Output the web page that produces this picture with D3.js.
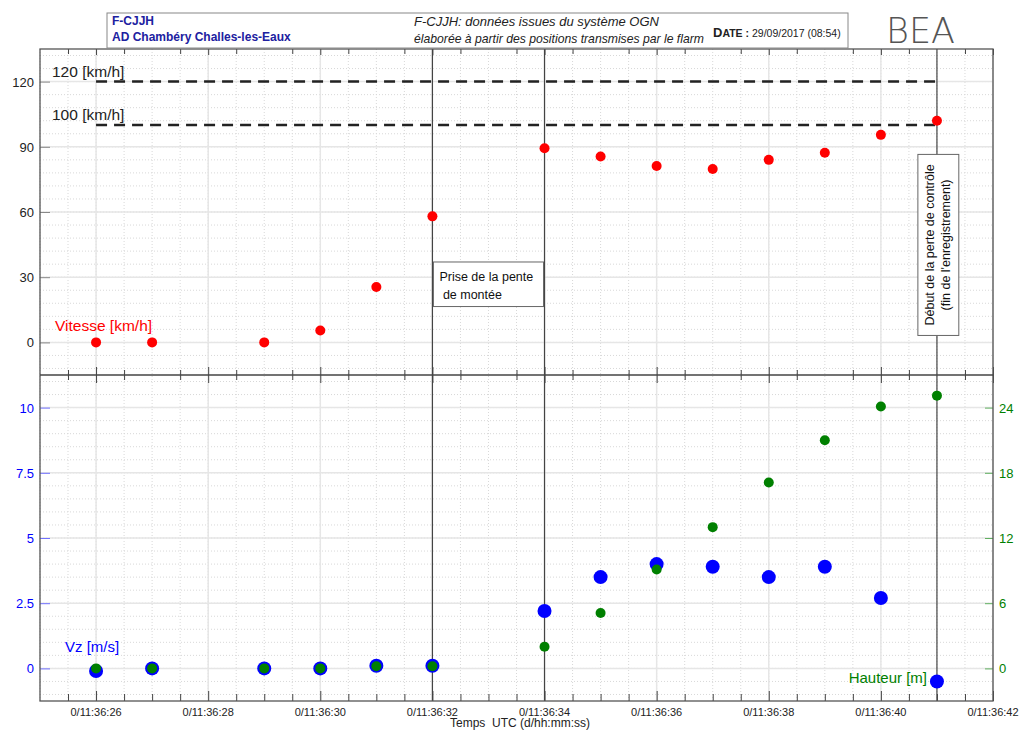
<!DOCTYPE html>
<html>
<head>
<meta charset="utf-8">
<title>F-CJJH OGN</title>
<script src="https://cdnjs.cloudflare.com/ajax/libs/d3/7.8.5/d3.min.js"></script>
<style>
  body { margin: 0; background: #fff; }
  svg { font-family: "Liberation Sans", Arial, sans-serif; }
</style>
</head>
<body>
<svg id="chart" width="1027" height="731"></svg>
<script>
// time in seconds after 0/11:36:00
var times    = [26, 27, 29, 30, 31, 32, 34, 35, 36, 37, 38, 39, 40, 41];
var vitesse  = [0, 0, 0, 5.5, 25.5, 58, 89.3, 85.5, 81.2, 79.8, 84, 87.3, 95.5, 102];
var vz       = [-0.1, 0, 0, 0, 0.1, 0.1, 2.2, 3.5, 4.0, 3.9, 3.5, 3.9, 2.7, -0.5];
var hauteur  = [0, 0, 0, 0, 0.2, 0.2, 2, 5.1, 9.1, 13, 17.1, 21, 24.1, 25.1];
var xTicks   = [26, 28, 30, 32, 34, 36, 38, 40, 42];
var vTicks   = [0, 30, 60, 90, 120];
var vzTicks  = [0, 2.5, 5, 7.5, 10];
var hTicks   = [0, 6, 12, 18, 24];
var limits   = [120, 100];
var events   = [32, 34, 41];

var svg = d3.select("#chart");
var L = 40, R = 993, T = 49, MID = 375, B = 701;

var x = d3.scaleLinear().domain([25, 42]).range([L, R]);
var yV = d3.scaleLinear().domain([-15, 135]).range([MID, T]);
var yVz = d3.scaleLinear().domain([-1.25, 11.25]).range([B, MID]);
var yH = d3.scaleLinear().domain([-3, 27]).range([B, MID]);

var blue = "#0000ff", green = "#008000", red = "#ff0000";

// grids
function grid(g, scale, step, dom) {
  var minor = d3.range(dom[0], dom[1] + 1e-9, step);
  g.selectAll(null).data(minor).enter().append("line")
    .attr("x1", L).attr("x2", R)
    .attr("y1", d => scale(d)).attr("y2", d => scale(d))
    .attr("stroke", "#d8d8d8").attr("stroke-dasharray", "1,2");
}
var gGrid = svg.append("g");
// vertical minor
gGrid.selectAll(null).data(d3.range(25, 42.01, 0.5)).enter().append("line")
  .attr("x1", d => x(d)).attr("x2", d => x(d)).attr("y1", T).attr("y2", B)
  .attr("stroke", "#d8d8d8").attr("stroke-dasharray", "1,2");
grid(gGrid, yV, 6, [-12, 132]);
grid(gGrid, yVz, 0.5, [-1, 11]);
// major
gGrid.selectAll(null).data(xTicks).enter().append("line")
  .attr("x1", d => x(d)).attr("x2", d => x(d)).attr("y1", T).attr("y2", B)
  .attr("stroke", "#e6e6e6").attr("stroke-width", 1.5);
gGrid.selectAll(null).data(vTicks).enter().append("line")
  .attr("x1", L).attr("x2", R).attr("y1", d => yV(d)).attr("y2", d => yV(d))
  .attr("stroke", "#e6e6e6").attr("stroke-width", 1.5);
gGrid.selectAll(null).data(vzTicks).enter().append("line")
  .attr("x1", L).attr("x2", R).attr("y1", d => yVz(d)).attr("y2", d => yVz(d))
  .attr("stroke", "#e6e6e6").attr("stroke-width", 1.5);

// event lines
svg.append("g").selectAll("line").data(events).enter().append("line")
  .attr("x1", d => x(d)).attr("x2", d => x(d)).attr("y1", T).attr("y2", B)
  .attr("stroke", "#444").attr("stroke-width", 1.2);

// limit lines
svg.append("g").selectAll("line").data(limits).enter().append("line")
  .attr("x1", x(26)).attr("x2", x(41)).attr("y1", d => yV(d)).attr("y2", d => yV(d))
  .attr("stroke", "#222").attr("stroke-width", 2.5).attr("stroke-dasharray", "11,7");
svg.append("g").selectAll("text").data(limits).enter().append("text")
  .attr("x", 52).attr("y", d => yV(d) - 5)
  .attr("font-size", 15.5).attr("fill", "#222")
  .text(d => d + " [km/h]");

// top edge ticks
svg.append("g").attr("transform", "translate(0," + T + ")").call(d3.axisBottom(x).tickValues(xTicks).tickSize(6).tickFormat(""))
  .call(g => g.select(".domain").remove());
svg.append("g").attr("transform", "translate(0," + T + ")").call(d3.axisBottom(x).tickValues(d3.range(25.5, 42, 1)).tickSize(5).tickFormat(""))
  .call(g => g.select(".domain").remove());
// middle divider ticks (both sides)
svg.append("g").attr("transform", "translate(0," + MID + ")").call(d3.axisBottom(x).tickValues(xTicks).tickSizeInner(8).tickSizeOuter(0).tickFormat(""))
  .call(g => g.select(".domain").remove());
svg.append("g").attr("transform", "translate(0," + MID + ")").call(d3.axisTop(x).tickValues(xTicks).tickSizeInner(8).tickSizeOuter(0).tickFormat(""))
  .call(g => g.select(".domain").remove());
svg.append("g").attr("transform", "translate(0," + MID + ")").call(d3.axisBottom(x).tickValues(d3.range(25.5, 42, 1)).tickSizeInner(5).tickSizeOuter(0).tickFormat(""))
  .call(g => g.select(".domain").remove());
svg.append("g").attr("transform", "translate(0," + MID + ")").call(d3.axisTop(x).tickValues(d3.range(25.5, 42, 1)).tickSizeInner(5).tickSizeOuter(0).tickFormat(""))
  .call(g => g.select(".domain").remove());

// bottom axis
svg.append("g").attr("transform", "translate(0," + B + ")")
  .call(d3.axisTop(x).tickValues(xTicks).tickSizeInner(10).tickSizeOuter(0).tickFormat(""))
  .call(g => g.select(".domain").remove());
svg.append("g").attr("transform", "translate(0," + B + ")")
  .call(d3.axisTop(x).tickValues(d3.range(25.5, 42, 0.5).filter(d => d % 2 !== 0)).tickSizeInner(7).tickSizeOuter(0).tickFormat(""))
  .call(g => g.select(".domain").remove());
svg.append("g").selectAll("text").data(xTicks).enter().append("text")
  .attr("x", d => x(d)).attr("y", B + 15).attr("text-anchor", "middle")
  .attr("font-size", 11).attr("fill", "#222")
  .text(d => "0/11:36:" + d);
svg.append("text").attr("x", 450).attr("y", 727).attr("font-size", 12).attr("fill", "#222")
  .attr("xml:space", "preserve").text("Temps  UTC (d/hh:mm:ss)");

svg.selectAll(".tick line").attr("stroke", "#444");

// left y axes
var gyv = svg.append("g").attr("transform", "translate(" + L + ",0)")
  .call(d3.axisRight(yV).tickValues(vTicks).tickSize(10).tickFormat(""));
gyv.select(".domain").remove();
gyv.selectAll("line").attr("stroke", "#888");
svg.append("g").selectAll("text").data(vTicks).enter().append("text")
  .attr("x", 34).attr("y", d => yV(d) + 5).attr("text-anchor", "end")
  .attr("font-size", 13).attr("fill", "#222").text(d => d);

var gyvz = svg.append("g").attr("transform", "translate(" + L + ",0)")
  .call(d3.axisRight(yVz).tickValues(vzTicks).tickSize(10).tickFormat(""));
gyvz.select(".domain").remove();
gyvz.selectAll("line").attr("stroke", "#7070ff");
svg.append("g").selectAll("text").data(vzTicks).enter().append("text")
  .attr("x", 34).attr("y", d => yVz(d) + 5).attr("text-anchor", "end")
  .attr("font-size", 13).attr("fill", blue).text(d => d);

var gyh = svg.append("g").attr("transform", "translate(" + R + ",0)")
  .call(d3.axisLeft(yH).tickValues(hTicks).tickSize(8).tickFormat(""));
gyh.select(".domain").remove();
gyh.selectAll("line").attr("stroke", "#60b060");
svg.append("g").selectAll("text").data(hTicks).enter().append("text")
  .attr("x", 999).attr("y", d => yH(d) + 5)
  .attr("font-size", 13).attr("fill", green).text(d => d);

// frame
svg.append("rect").attr("x", L).attr("y", T).attr("width", R - L).attr("height", B - T)
  .attr("fill", "none").attr("stroke", "#555").attr("stroke-width", 1.3);
svg.append("line").attr("x1", L).attr("x2", R).attr("y1", MID).attr("y2", MID)
  .attr("stroke", "#444").attr("stroke-width", 1.5);

// annotation boxes
svg.append("rect").attr("x", x(32) + 1).attr("y", yV(37)).attr("width", x(34) - x(32) - 2)
  .attr("height", yV(16.5) - yV(37)).attr("fill", "#fff").attr("stroke", "#666");
svg.append("text").attr("x", x(32) + 7).attr("y", yV(37) + 19).attr("font-size", 12.5).attr("fill", "#111")
  .text("Prise de la pente");
svg.append("text").attr("x", x(32) + 7).attr("y", yV(37) + 37).attr("font-size", 12.5).attr("fill", "#111")
  .attr("xml:space", "preserve").text(" de montée");

svg.append("rect").attr("x", x(40.66)).attr("y", yV(86.5)).attr("width", x(41.39) - x(40.66))
  .attr("height", yV(3.2) - yV(86.5)).attr("fill", "#fff").attr("stroke", "#666");
var cy = (yV(86.5) + yV(3.2)) / 2;
svg.append("text").attr("transform", "translate(" + (x(41) - 3) + "," + cy + ") rotate(-90)")
  .attr("text-anchor", "middle").attr("font-size", 12.5).attr("fill", "#111")
  .text("Début de la perte de contrôle");
svg.append("text").attr("transform", "translate(" + (x(41) + 13) + "," + cy + ") rotate(-90)")
  .attr("text-anchor", "middle").attr("font-size", 12.5).attr("fill", "#111")
  .text("(fin de l'enregistrement)");

// points
svg.append("g").selectAll("circle").data(times).enter().append("circle")
  .attr("cx", d => x(d)).attr("cy", (d, i) => yV(vitesse[i])).attr("r", 5).attr("fill", red);
svg.append("g").selectAll("circle").data(times).enter().append("circle")
  .attr("cx", d => x(d)).attr("cy", (d, i) => yVz(vz[i])).attr("r", 7).attr("fill", blue);
svg.append("g").selectAll("circle").data(times).enter().append("circle")
  .attr("cx", d => x(d)).attr("cy", (d, i) => yH(hauteur[i])).attr("r", 5).attr("fill", green);

// series labels
svg.append("text").attr("x", 55).attr("y", 331).attr("font-size", 15.5).attr("fill", red).text("Vitesse [km/h]");
svg.append("text").attr("x", 65).attr("y", 652).attr("font-size", 15).attr("fill", blue).text("Vz [m/s]");
svg.append("text").attr("x", 927).attr("y", 683).attr("text-anchor", "end").attr("font-size", 15).attr("fill", green).text("Hauteur [m]");

// header box
svg.append("rect").attr("x", 107).attr("y", 13).attr("width", 741).attr("height", 35)
  .attr("fill", "#fff").attr("stroke", "#888");
svg.append("text").attr("x", 112).attr("y", 25).attr("font-size", 12).attr("font-weight", "bold").attr("fill", "#2020a0").text("F-CJJH");
svg.append("text").attr("x", 112).attr("y", 41).attr("font-size", 12).attr("font-weight", "bold").attr("fill", "#2020a0").text("AD Chambéry Challes-les-Eaux");
svg.append("text").attr("x", 414).attr("y", 26).attr("font-size", 13).attr("font-style", "italic").attr("fill", "#222").text("F-CJJH: données issues du système OGN");
svg.append("text").attr("x", 414).attr("y", 43).attr("font-size", 12.2).attr("font-style", "italic").attr("fill", "#222").text("élaborée à partir des positions transmises par le flarm");
var dt = svg.append("text").attr("x", 713).attr("y", 37).attr("fill", "#222");
dt.append("tspan").attr("font-size", 13).attr("font-weight", "bold").text("D");
dt.append("tspan").attr("font-size", 10.5).attr("font-weight", "bold").text("ATE");
dt.append("tspan").attr("font-size", 10.5).attr("font-weight", "bold").text(" : ");
dt.append("tspan").attr("font-size", 10.5).text("29/09/2017 (08:54)");

// logo
svg.append("text").attr("x", 886).attr("y", 43).attr("font-size", 35).attr("fill", "#555")
  .attr("font-family", "'DejaVu Sans', sans-serif").attr("font-weight", 300).attr("letter-spacing", 0).text("BEA");
</script>
</body>
</html>
